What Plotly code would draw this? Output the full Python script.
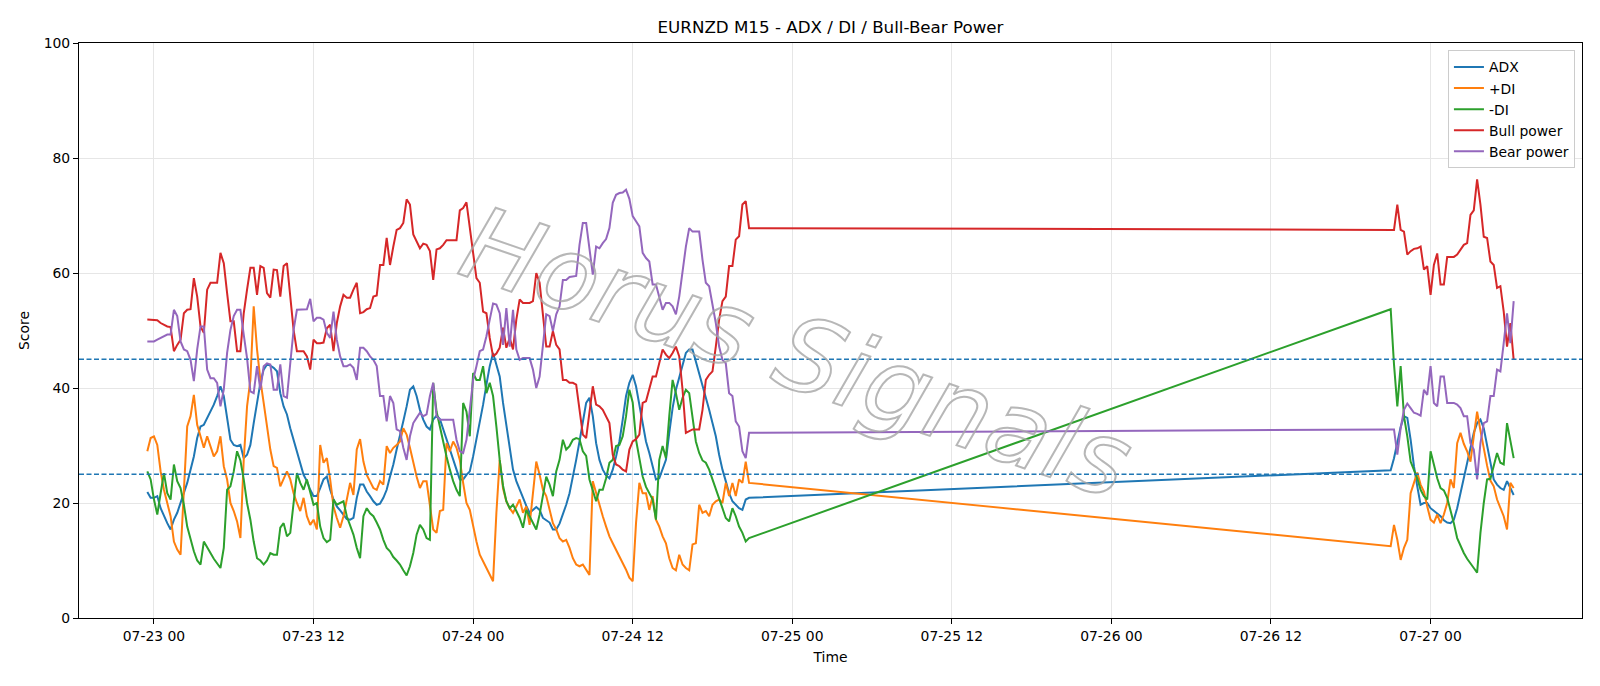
import pandas as pd
import plotly.graph_objects as go

# ---------------- data ----------------
seg1_start = "2020-07-22 23:30"   # M15 bars, first block
seg2_start = "2020-07-26 21:00"   # M15 bars, after weekend gap

adx_1 = [21.9, 20.9, 20.9, 21.2, 19.1, 17.7, 16.5, 15.4, 17.1, 18.3,
         20.0, 21.7, 23.5, 25.8, 28.1, 31.3, 33.3, 33.6, 34.8, 35.7,
         37.1, 38.6, 40.3, 38.6, 34.5, 31.0, 30.1, 29.9, 30.1, 27.8,
         28.4, 30.1, 33.9, 37.4, 40.9, 43.2, 44.1, 43.9, 43.5, 42.9,
         39.1, 36.8, 35.4, 33.0, 31.0, 29.0, 26.7, 24.9, 23.8, 22.3,
         21.2, 21.2, 22.6, 24.1, 24.6, 22.3, 20.6, 19.4, 18.7, 18.0,
         17.2, 17.1, 17.4, 20.9, 23.2, 23.2, 22.0, 21.2, 20.3, 19.7,
         19.9, 20.9, 22.3, 24.6, 26.7, 29.3, 31.6, 34.2, 36.8, 39.7,
         40.3, 38.6, 36.2, 34.5, 33.3, 32.8, 34.5, 35.2, 34.6, 32.8,
         31.0, 29.0, 27.2, 25.8, 24.1, 24.1, 24.9, 25.5, 28.1, 31.0,
         33.9, 37.1, 40.6, 43.8, 46.1, 43.8, 42.0, 37.4, 33.3, 29.0,
         25.8, 23.8, 22.3, 21.0, 19.5, 18.3, 18.8, 19.3, 18.8, 17.4,
         17.0, 16.6, 15.4, 15.4, 16.4, 18.0, 19.7, 21.7, 24.3, 27.5,
         30.7, 34.2, 37.4, 38.3, 35.1, 30.4, 27.5, 25.8, 24.8, 24.3,
         25.8, 28.1, 30.7, 34.5, 38.6, 40.9, 42.3, 40.3, 37.1, 33.3,
         30.7, 28.7, 26.4, 24.1, 24.3, 26.1, 27.5, 32.2, 36.5, 39.7,
         42.0, 44.3, 46.1, 46.7, 46.7, 44.6, 42.6, 40.6, 38.6, 36.2,
         33.9, 31.6, 28.4, 25.8, 23.8, 21.7, 20.3, 19.7, 19.1, 18.8,
         20.6, 20.9]
adx_2 = [25.7, 27.8, 30.4, 33.2, 35.1, 34.8, 31.0, 26.4, 22.9, 19.7,
         20.0, 20.0, 19.1, 18.6, 18.1, 17.7, 17.0, 16.6, 16.5, 17.1,
         19.1, 21.7, 24.9, 27.2, 29.6, 32.2, 33.9, 34.5, 33.0, 30.1,
         26.7, 24.1, 23.2, 22.6, 22.3, 23.8, 22.6, 21.4]

pdi_1 = [29.0, 31.3, 31.6, 30.1, 25.5, 22.3, 20.0, 17.7, 13.3, 11.9,
         11.0, 23.5, 33.3, 35.1, 38.8, 33.6, 31.6, 29.6, 31.6, 29.9,
         28.1, 29.0, 31.6, 26.4, 24.1, 20.0, 18.6, 16.8, 13.9, 27.5,
         36.8, 41.4, 54.2, 46.7, 41.4, 37.4, 33.3, 29.3, 26.4, 26.1,
         22.9, 24.1, 25.5, 24.1, 21.7, 20.0, 18.6, 20.9, 17.7, 16.2,
         17.1, 15.4, 30.1, 27.0, 27.8, 24.1, 19.4, 17.4, 15.7, 17.7,
         20.9, 23.5, 21.4, 29.3, 31.1, 27.2, 24.9, 23.6, 22.6, 22.3,
         23.8, 23.2, 29.9, 28.7, 29.6, 30.1, 30.7, 33.0, 31.9, 29.6,
         27.0, 24.6, 22.6, 23.8, 23.8, 20.0, 15.4, 14.8, 18.6, 18.8,
         30.4, 29.0, 30.7, 29.6, 27.5, 23.5, 20.0, 18.8, 15.9, 13.3,
         11.0, 9.9, 8.7, 7.5, 6.4, 18.3, 27.5, 22.5, 20.3, 19.1,
         18.3, 19.4, 20.6, 18.3, 19.4, 16.2, 21.7, 27.2, 24.9, 22.3,
         21.2, 18.6, 16.5, 15.4, 13.9, 13.3, 13.6, 12.2, 10.4, 9.3,
         9.0, 9.3, 8.3, 7.5, 23.8, 21.7, 19.7, 17.7, 15.9, 14.2,
         13.0, 11.9, 10.7, 9.6, 8.4, 7.0, 6.4, 16.5, 23.5, 21.7,
         21.7, 18.8, 21.2, 17.1, 15.9, 14.2, 13.0, 10.4, 8.7, 8.3,
         11.0, 9.3, 8.7, 8.3, 12.8, 13.0, 19.7, 18.3, 18.6, 17.7,
         19.7, 20.3, 20.6, 20.0, 23.5, 21.2, 23.5, 21.2, 24.1, 23.5,
         27.2, 23.5]
pdi_2 = [12.5, 16.2, 13.6, 10.1, 12.2, 13.6, 21.7, 23.5, 25.3, 23.2,
         22.0, 19.4, 17.1, 16.6, 18.0, 16.5, 18.0, 20.0, 24.1, 22.6,
         30.4, 32.2, 30.3, 29.0, 27.2, 31.6, 35.9, 32.6, 29.3, 26.5,
         23.9, 22.9, 20.6, 19.3, 17.7, 15.4, 23.5, 22.6]

mdi_1 = [25.5, 24.1, 20.6, 18.0, 21.7, 25.2, 21.7, 20.6, 26.7, 23.8,
         22.6, 19.7, 15.9, 13.6, 11.6, 10.0, 9.3, 13.3, 12.2, 11.3,
         10.3, 9.6, 8.7, 12.2, 22.3, 22.9, 25.5, 29.0, 27.4, 24.1,
         20.0, 17.1, 13.3, 10.4, 10.0, 9.3, 10.0, 11.3, 11.0, 11.0,
         15.7, 16.5, 14.2, 14.8, 20.0, 25.2, 23.5, 22.3, 24.1, 21.7,
         19.7, 20.0, 15.9, 13.9, 13.2, 13.6, 20.6, 19.7, 20.0, 20.3,
         17.7, 16.2, 14.5, 12.2, 10.4, 17.7, 19.1, 18.2, 17.7, 16.6,
         15.4, 13.6, 12.2, 11.6, 10.6, 10.0, 9.3, 8.3, 7.4, 9.0,
         11.3, 14.5, 16.2, 15.4, 13.9, 13.6, 40.9, 35.9, 33.3, 30.4,
         28.1, 25.8, 23.8, 22.3, 21.2, 37.4, 35.9, 31.6, 42.6, 41.4,
         41.4, 43.8, 39.1, 40.9, 38.6, 33.3, 27.5, 23.0, 20.3, 19.1,
         19.7, 18.6, 17.4, 15.7, 18.8, 17.7, 16.5, 15.4, 18.0, 21.2,
         24.6, 23.2, 21.2, 25.5, 27.5, 31.0, 29.3, 29.9, 31.0, 31.3,
         31.1, 29.0, 28.2, 24.1, 22.0, 20.3, 22.3, 22.3, 24.3, 27.0,
         27.5, 29.9, 30.1, 31.6, 35.1, 39.7, 37.5, 31.0, 27.8, 24.6,
         22.8, 21.7, 20.6, 17.1, 27.5, 29.9, 27.8, 35.1, 41.4, 39.1,
         36.2, 38.3, 39.7, 39.1, 34.5, 30.7, 28.7, 27.4, 27.0, 25.8,
         24.1, 22.3, 20.6, 19.1, 17.4, 16.8, 19.1, 17.7, 15.9, 14.8,
         13.3, 13.9]
mdi_2 = [53.7, 44.1, 36.8, 43.8, 35.1, 31.6, 27.2, 25.9, 24.3, 22.3,
         21.2, 20.6, 29.0, 26.7, 24.3, 22.6, 22.2, 20.9, 18.8, 16.5,
         13.9, 12.5, 11.3, 10.3, 9.6, 8.7, 7.9, 14.8, 20.0, 24.1,
         24.2, 26.4, 28.7, 27.0, 26.7, 33.9, 30.7, 27.8]

bull_1 = [51.9, 51.9, 51.9, 51.8, 51.3, 51.0, 50.7, 50.6, 46.4, 47.5,
          48.4, 53.0, 53.6, 53.7, 59.1, 55.9, 50.7, 49.6, 57.1, 58.3,
          58.3, 58.3, 63.5, 61.7, 56.5, 51.6, 51.6, 46.4, 46.4, 53.0,
          57.1, 60.9, 60.9, 56.2, 61.2, 60.9, 56.5, 55.7, 60.6, 60.5,
          55.9, 61.2, 61.7, 55.9, 50.1, 46.4, 46.4, 46.4, 45.5, 43.2,
          48.4, 47.8, 47.8, 47.9, 50.4, 51.0, 46.4, 51.3, 54.2, 56.2,
          55.7, 55.7, 57.1, 58.3, 53.0, 53.2, 53.7, 53.9, 55.9, 56.1,
          61.4, 61.4, 66.1, 61.4, 64.6, 67.5, 67.8, 68.7, 72.8, 71.9,
          66.7, 65.5, 64.3, 65.1, 64.9, 63.8, 58.8, 64.1, 64.3, 64.9,
          65.7, 65.7, 65.7, 65.7, 70.9, 71.3, 72.3, 67.5, 63.5, 59.1,
          58.3, 53.3, 53.0, 48.7, 45.5, 46.0, 47.0, 50.5, 47.0, 48.7,
          46.7, 51.9, 55.4, 54.8, 54.8, 54.8, 55.1, 60.0, 58.3, 53.0,
          47.2, 47.2, 49.9, 47.5, 46.7, 41.4, 41.4, 40.9, 40.9, 40.6,
          36.5, 31.9, 31.3, 36.2, 40.3, 37.1, 36.8, 36.2, 35.1, 33.9,
          28.4, 26.7, 26.4, 25.8, 25.5, 29.3, 30.7, 31.1, 31.9, 37.4,
          37.7, 39.7, 42.0, 42.0, 44.3, 46.7, 45.8, 45.2, 46.1, 47.2,
          45.5, 39.7, 32.2, 32.5, 32.8, 32.8, 32.8, 36.2, 41.4, 42.3,
          42.9, 47.2, 51.9, 55.1, 55.9, 61.2, 61.2, 65.8, 66.4, 71.9,
          72.5, 67.8]
bull_2 = [67.5, 67.5, 71.9, 67.5, 67.2, 63.2, 63.8, 64.2, 64.3, 64.6,
          60.6, 61.2, 56.2, 61.4, 63.4, 58.0, 58.0, 62.8, 62.8, 62.8,
          63.2, 64.1, 64.9, 65.2, 70.1, 70.9, 76.3, 71.9, 66.3, 66.1,
          62.0, 61.4, 57.4, 57.7, 53.3, 47.2, 51.3, 44.9]

bear_1 = [48.1, 48.1, 48.1, 48.4, 48.7, 49.0, 49.3, 49.3, 53.6, 52.5,
          48.1, 46.7, 46.4, 44.9, 41.2, 46.7, 50.7, 50.7, 43.2, 41.7,
          41.7, 40.9, 36.8, 39.7, 46.1, 50.1, 52.5, 53.6, 53.6, 49.3,
          45.2, 39.4, 39.1, 43.8, 39.7, 43.8, 44.3, 44.1, 39.7, 39.7,
          44.1, 38.6, 38.3, 44.3, 50.1, 53.6, 53.6, 53.6, 53.7, 55.5,
          51.6, 52.2, 52.2, 51.9, 49.6, 48.7, 53.3, 48.4, 45.5, 43.8,
          43.8, 44.1, 43.5, 41.4, 47.0, 47.0, 46.4, 45.5, 44.9, 43.8,
          38.6, 38.6, 34.2, 38.6, 37.4, 32.8, 32.5, 29.6, 27.5, 31.6,
          33.9, 34.8, 35.7, 35.1, 35.4, 38.6, 40.9, 35.1, 34.5, 34.5,
          34.5, 34.5, 34.5, 31.0, 29.0, 28.7, 31.0, 36.2, 41.4, 43.8,
          46.4, 46.7, 49.0, 51.9, 54.7, 54.5, 53.0, 47.5, 53.9, 47.2,
          53.6, 46.7, 44.9, 45.2, 45.2, 45.2, 43.2, 40.0, 42.0, 47.8,
          52.8, 52.5, 49.9, 52.8, 54.2, 58.8, 58.8, 59.3, 59.4, 59.5,
          64.9, 68.7, 68.7, 64.1, 59.7, 64.6, 64.3, 65.2, 65.9, 67.8,
          72.2, 73.6, 73.9, 74.0, 74.5, 72.9, 69.9, 69.0, 68.1, 63.5,
          62.6, 62.0, 58.0, 58.0, 55.9, 53.6, 54.8, 54.8, 54.2, 52.8,
          55.9, 60.6, 64.6, 67.8, 67.2, 67.2, 67.2, 62.3, 58.3, 57.7,
          54.8, 51.3, 47.2, 44.9, 44.3, 39.1, 38.6, 34.2, 33.3, 29.0,
          27.8, 32.2]
bear_2 = [32.8, 32.8, 28.4, 33.0, 36.2, 37.3, 36.5, 35.7, 35.5, 35.2,
          39.7, 38.8, 43.8, 37.4, 36.8, 42.0, 42.0, 37.4, 37.4, 37.4,
          37.1, 36.5, 35.1, 35.1, 30.4, 29.3, 24.1, 30.4, 33.9, 34.2,
          38.6, 38.6, 43.2, 42.9, 47.8, 53.0, 47.8, 55.1]

levels = [45, 25]
y_ticks = [0, 20, 40, 60, 80, 100]

series_names = ["ADX", "+DI", "-DI", "Bull power", "Bear power"]
series_colors = ["#1f77b4", "#ff7f0e", "#2ca02c", "#d62728", "#9467bd"]

# ---------------- build ----------------
seg1 = [adx_1, pdi_1, mdi_1, bull_1, bear_1]
seg2 = [adx_2, pdi_2, mdi_2, bull_2, bear_2]
n1 = {len(s) for s in seg1}
n2 = {len(s) for s in seg2}
if len(n1) != 1 or len(n2) != 1:
    raise SystemExit("length mismatch: %s %s" % ([len(s) for s in seg1], [len(s) for s in seg2]))

t1 = pd.date_range(seg1_start, periods=n1.pop(), freq="15min")
t2 = pd.date_range(seg2_start, periods=n2.pop(), freq="15min")
times = t1.append(t2)

FONT = "DejaVu Sans"
fig = go.Figure()
for name, color, a, b in zip(series_names, series_colors, seg1, seg2):
    fig.add_trace(go.Scatter(x=times, y=a + b, mode="lines", name=name,
                             line=dict(color=color, width=2)))

for lv in levels:
    fig.add_shape(type="line", xref="paper", x0=0, x1=1, yref="y", y0=lv, y1=lv,
                  line=dict(color="#1f77b4", width=1.3, dash="5px,2.5px"), layer="above")

tmin, tmax = times.min(), times.max()
pad = (tmax - tmin) * 0.05

axis_common = dict(showline=True, linecolor="black", linewidth=1.1, mirror=True,
                   ticks="outside", ticklen=5, tickwidth=1.1, tickcolor="black",
                   showgrid=True, gridcolor="#e6e6e6", gridwidth=1, zeroline=False,
                   tickfont=dict(family=FONT, size=13.9, color="black"))

fig.update_layout(
    width=1600, height=686,
    margin=dict(l=79, r=18, t=43, b=68),
    paper_bgcolor="white", plot_bgcolor="white",
    font=dict(family=FONT, color="black"),
    title=dict(text="EURNZD M15 - ADX / DI / Bull-Bear Power", x=0.5, xref="paper",
               y=1 - 27.5 / 686, yref="container", xanchor="center", yanchor="middle",
               font=dict(family=FONT, size=16.7, color="black")),
    xaxis=dict(type="date", range=[tmin - pad, tmax + pad], tick0="2020-07-23 00:00",
               dtick=12 * 3600 * 1000, tickformat="%m-%d %H",
               title=dict(text="Time", font=dict(family=FONT, size=13.9), standoff=9),
               **axis_common),
    yaxis=dict(range=[0, 100], tickvals=y_ticks,
               title=dict(text="Score", font=dict(family=FONT, size=13.9), standoff=10),
               **axis_common),
    legend=dict(x=0.9953, xanchor="right", y=0.987, yanchor="top",
                bgcolor="rgba(255,255,255,0.85)", bordercolor="#cccccc", borderwidth=1,
                font=dict(family=FONT, size=13.9, color="black"),
                itemwidth=30),
    showlegend=True,
)

fig.add_annotation(text="Horus Signals", xref="paper", yref="paper", x=0.4776, y=0.4625,
                   xanchor="center", yanchor="middle", showarrow=False, textangle=19,
                   font=dict(family=FONT, size=102, style="italic", color="rgba(170,170,170,0.35)"))

post = """
(function(){
  function outline(){
    document.querySelectorAll('.annotation-text').forEach(function(e){
      if(e.textContent.indexOf('Horus')>=0){
        e.style.fill='rgba(0,0,0,0)';
        e.style.stroke='rgba(165,165,165,0.8)';
        e.style.strokeWidth='2px';
      }
    });
  }
  var gd=document.getElementById('{plot_id}');
  if(gd && gd.on){gd.on('plotly_afterplot', outline);}
  setTimeout(outline, 0); setTimeout(outline, 200);
})();
"""
fig.write_html("out.html", post_script=post)
